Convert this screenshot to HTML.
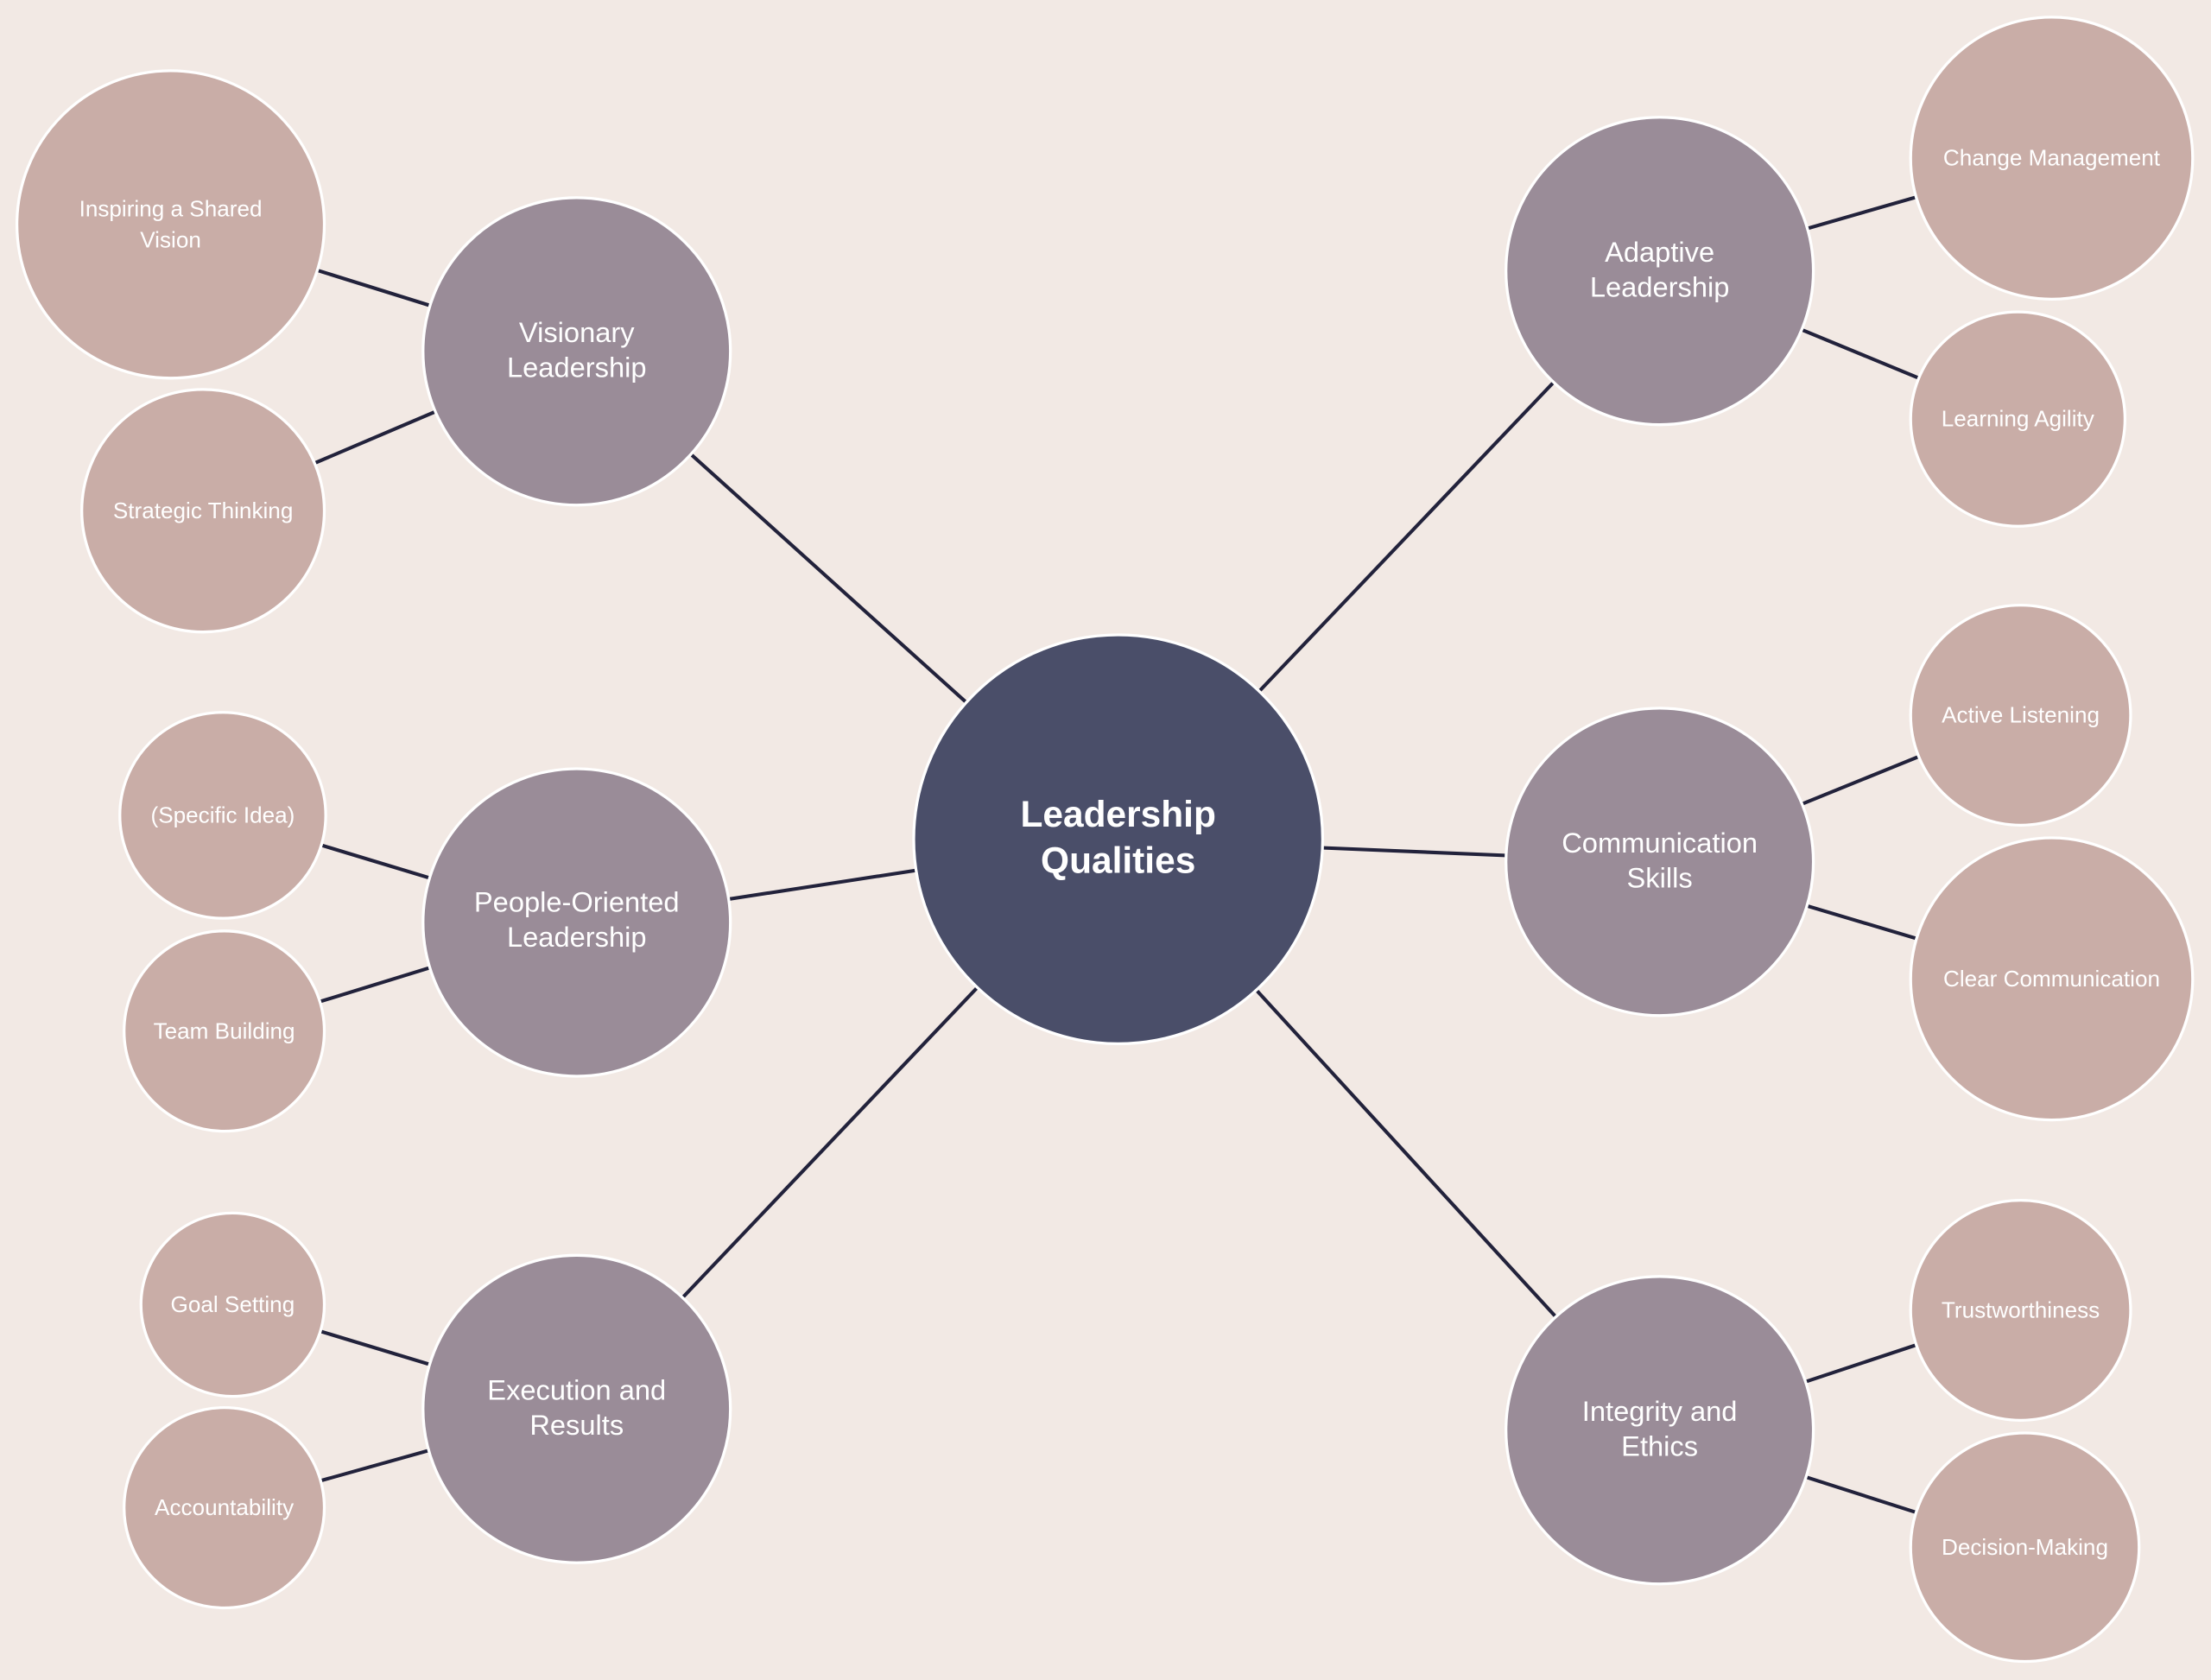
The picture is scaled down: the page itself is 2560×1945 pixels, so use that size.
<!DOCTYPE html>
<html><head><meta charset="utf-8"><style>
html,body{margin:0;padding:0;background:#f2e9e4;}
svg{display:block;}
text{font-family:"Liberation Sans",Arial,sans-serif;fill:#fff;text-anchor:middle;dominant-baseline:middle;}
.l{stroke:#22223b;stroke-width:2.5;}
.c{stroke:#fff;stroke-width:2;}
</style></head><body>
<svg width="2560" height="1945" viewBox="0 0 1568 1191" xmlns="http://www.w3.org/2000/svg">
<rect width="1568" height="1191" fill="#f2e9e4"/>
<g class="l">
<line x1="793" y1="595" x2="409" y2="249"/>
<line x1="793" y1="595" x2="409" y2="654"/>
<line x1="793" y1="595" x2="409" y2="999"/>
<line x1="793" y1="595" x2="1177" y2="192"/>
<line x1="793" y1="595" x2="1177" y2="611"/>
<line x1="793" y1="595" x2="1177" y2="1014"/>
<line x1="409" y1="249" x2="121" y2="159"/>
<line x1="409" y1="249" x2="144" y2="362"/>
<line x1="409" y1="654" x2="158" y2="578"/>
<line x1="409" y1="654" x2="159" y2="731"/>
<line x1="409" y1="999" x2="165" y2="925"/>
<line x1="409" y1="999" x2="159" y2="1069"/>
<line x1="1177" y1="192" x2="1455" y2="112"/>
<line x1="1177" y1="192" x2="1431" y2="297"/>
<line x1="1177" y1="611" x2="1433" y2="507"/>
<line x1="1177" y1="611" x2="1455" y2="694"/>
<line x1="1177" y1="1014" x2="1433" y2="929"/>
<line x1="1177" y1="1014" x2="1436" y2="1097"/>
</g>
<g class="c" fill="#c9ada7">
<circle cx="121" cy="159" r="109"/>
<circle cx="144" cy="362" r="86"/>
<circle cx="158" cy="578" r="73"/>
<circle cx="159" cy="731" r="71"/>
<circle cx="165" cy="925" r="65"/>
<circle cx="159" cy="1069" r="71"/>
<circle cx="1455" cy="112" r="100"/>
<circle cx="1431" cy="297" r="76"/>
<circle cx="1433" cy="507" r="78"/>
<circle cx="1455" cy="694" r="100"/>
<circle cx="1433" cy="929" r="78"/>
<circle cx="1436" cy="1097" r="81"/>
</g>
<g class="c" fill="#9a8c98">
<circle cx="409" cy="249" r="109"/>
<circle cx="409" cy="654" r="109"/>
<circle cx="409" cy="999" r="109"/>
<circle cx="1177" cy="192" r="109"/>
<circle cx="1177" cy="611" r="109"/>
<circle cx="1177" cy="1014" r="109"/>
</g>
<circle class="c" cx="793" cy="595" r="145" fill="#4a4e69"/>
<text x="793" y="579" font-size="26" font-weight="bold">Leadership</text>
<text x="793" y="612" font-size="26" font-weight="bold">Qualities</text>
<g font-size="20">
<text x="409" y="237" font-size="20">Visionary</text><text x="409" y="262" font-size="20">Leadership</text>
<text x="409" y="641" font-size="20">People-Oriented</text><text x="409" y="666" font-size="20">Leadership</text>
<text x="409" y="987" font-size="20">Execution and</text><text x="409" y="1012" font-size="20">Results</text>
<text x="1177" y="180" font-size="20">Adaptive</text><text x="1177" y="205" font-size="20">Leadership</text>
<text x="1177" y="599" font-size="20">Communication</text><text x="1177" y="624" font-size="20">Skills</text>
<text x="1177" y="1002" font-size="20">Integrity and</text><text x="1177" y="1027" font-size="20">Ethics</text>
</g>
<g>
<text x="121" y="149" font-size="16">Inspiring a Shared</text><text x="121" y="171" font-size="16">Vision</text>
<text x="144" y="363" font-size="16">Strategic Thinking</text>
<text x="158" y="579" font-size="16">(Specific Idea)</text>
<text x="159" y="732" font-size="16">Team Building</text>
<text x="165" y="926" font-size="16">Goal Setting</text>
<text x="159" y="1070" font-size="16">Accountability</text>
<text x="1455" y="113" font-size="16">Change Management</text>
<text x="1431" y="298" font-size="16">Learning Agility</text>
<text x="1433" y="508" font-size="16">Active Listening</text>
<text x="1455" y="695" font-size="16">Clear Communication</text>
<text x="1433" y="930" font-size="16">Trustworthiness</text>
<text x="1436" y="1098" font-size="16">Decision-Making</text>
</g>
</svg>
</body></html>
